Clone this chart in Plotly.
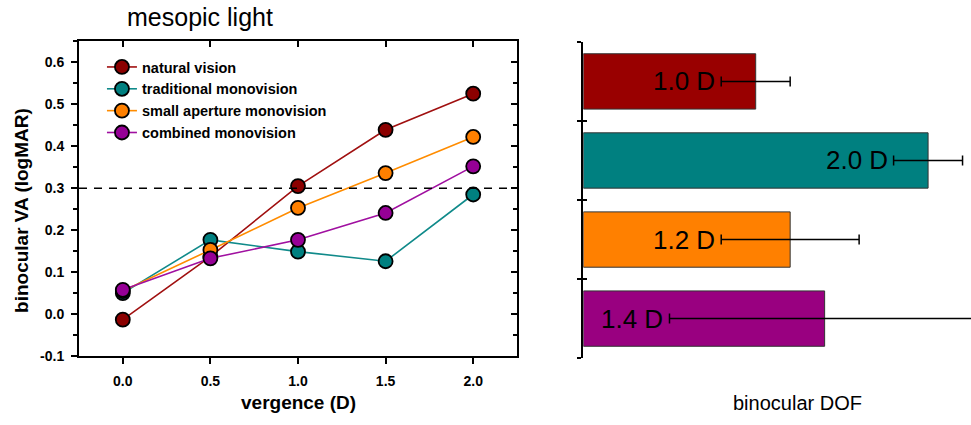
import plotly.graph_objects as go

vergence = [0.0, 0.5, 1.0, 1.5, 2.0]
series_names = ["natural vision", "traditional monovision", "small aperture monovision", "combined monovision"]
natural = [-0.013, 0.137, 0.305, 0.439, 0.525]
traditional = [0.050, 0.177, 0.149, 0.126, 0.285]
small_aperture = [0.055, 0.153, 0.253, 0.336, 0.422]
combined = [0.058, 0.133, 0.177, 0.241, 0.352]
threshold = 0.3

y_ticks = [-0.1, 0.0, 0.1, 0.2, 0.3, 0.4, 0.5, 0.6]
y_minor = [-0.05, 0.05, 0.15, 0.25, 0.35, 0.45, 0.55, 0.65]

dof_values = [1.0, 2.0, 1.2, 1.4]
dof_errors = [0.2, 0.2, 0.4, 0.9]
dof_labels = ["1.0 D", "2.0 D", "1.2 D", "1.4 D"]

line_colors = ["#A01010", "#108A8A", "#FF8C00", "#A010A0"]
marker_colors = ["#8B0000", "#008080", "#FF8000", "#960096"]
bar_colors = ["#990000", "#008080", "#FF8000", "#990080"]

FONT = "Liberation Sans, Arial, sans-serif"
W, H = 971, 425

def px(y):
    return 1 - y / H

fig = go.Figure()

for name, ys, lc, mc in zip(series_names, [natural, traditional, small_aperture, combined], line_colors, marker_colors):
    fig.add_trace(go.Scatter(
        x=vergence, y=ys, name=name, mode="lines+markers",
        line=dict(color=lc, width=1.6),
        marker=dict(size=14, color=mc, line=dict(color="black", width=1.8)),
        xaxis="x", yaxis="y", cliponaxis=False,
    ))

fig.add_trace(go.Scatter(
    x=[-0.25, 2.25], y=[threshold, threshold], mode="lines", showlegend=False,
    line=dict(color="black", width=1.5, dash="8px,7px"), xaxis="x", yaxis="y", hoverinfo="skip",
))

cat_pos = list(range(len(dof_values)))
fig.add_trace(go.Bar(
    x=dof_values, y=cat_pos, orientation="h", width=0.7,
    marker=dict(color=bar_colors, line=dict(color="#333333", width=1)),
    error_x=dict(type="data", array=dof_errors, visible=True, color="black", thickness=1.5, width=5),
    xaxis="x2", yaxis="y2", showlegend=False,
))

for v, e, lab, p in zip(dof_values, dof_errors, dof_labels, cat_pos):
    fig.add_annotation(x=v - e, y=p, xref="x2", yref="y2", text=lab, showarrow=False,
                       xanchor="right", yanchor="middle", xshift=-4,
                       font=dict(family=FONT, size=26, color="black"))

xdom = [79 / W, 517 / W]
ydom = [px(363), px(42)]
xr = [-0.25, 2.25]
yr = [-0.1, 0.65]
bdom = [px(365), px(42.7)]

fig.update_layout(
    width=W, height=H, autosize=False,
    margin=dict(l=0, r=0, t=0, b=0, pad=0),
    paper_bgcolor="white", plot_bgcolor="white",
    font=dict(family=FONT, color="black"),
    showlegend=True,
    legend=dict(x=0.105, y=px(52), xanchor="left", yanchor="top", bgcolor="rgba(0,0,0,0)",
                font=dict(family=FONT, size=14.5, color="black", weight="bold"),
                tracegroupgap=0, itemwidth=30),
    xaxis=dict(domain=xdom, range=xr, showline=True, linecolor="black", linewidth=2,
               ticks="outside", ticklen=6, tickwidth=1.5, tickcolor="black",
               tickvals=vergence, ticktext=[f"{v:.1f}" for v in vergence],
               tickfont=dict(size=14, weight="bold"), ticklabelstandoff=5,
               showgrid=False, zeroline=False, anchor="y"),
    yaxis=dict(domain=ydom, range=yr, showline=True, linecolor="black", linewidth=2,
               ticks="outside", ticklen=6, tickwidth=1.5, tickcolor="black",
               tickvals=y_ticks, ticktext=[f"{v:.1f}" for v in y_ticks],
               tickfont=dict(size=14, weight="bold"), ticklabelstandoff=4,
               minor=dict(tickvals=y_minor, ticks="outside",
                          ticklen=4, tickwidth=1.5, tickcolor="black"),
               showgrid=False, zeroline=False, anchor="x"),
    xaxis3=dict(domain=xdom, range=xr, overlaying="x", side="top", anchor="y",
                showline=True, linecolor="black", linewidth=2, ticks="inside", ticklen=6,
                tickwidth=1.5, tickcolor="black", tickvals=vergence, showticklabels=False,
                showgrid=False, zeroline=False),
    yaxis3=dict(domain=ydom, range=yr, overlaying="y", side="right", anchor="x",
                showline=True, linecolor="black", linewidth=2, ticks="inside", ticklen=6,
                tickwidth=1.5, tickcolor="black",
                tickvals=y_ticks, showticklabels=False,
                minor=dict(tickvals=y_minor, ticks="inside",
                           ticklen=4, tickwidth=1.5, tickcolor="black"),
                showgrid=False, zeroline=False),
    xaxis2=dict(domain=[583.3 / W, 1.0], range=[0, 2.249], visible=False, anchor="y2"),
    yaxis2=dict(domain=bdom, range=[3.5, -0.5], anchor="x2",
                showline=True, linecolor="black", linewidth=2, ticks="outside", ticklen=4,
                tickwidth=1.5, tickcolor="black", tickvals=[-0.5, 0.5, 1.5, 2.5, 3.5],
                showticklabels=False, showgrid=False, zeroline=False),
    yaxis4=dict(domain=bdom, range=[3.5, -0.5], anchor="x2",
                overlaying="y2", side="left",
                showline=False, ticks="inside", ticklen=4,
                tickwidth=1.5, tickcolor="black", tickvals=[-0.5, 0.5, 1.5, 2.5, 3.5],
                showticklabels=False, showgrid=False, zeroline=False),
)

fig.add_trace(go.Scatter(x=[None], y=[None], xaxis="x3", yaxis="y3", showlegend=False, hoverinfo="skip"))
fig.add_trace(go.Scatter(x=[None], y=[None], xaxis="x2", yaxis="y4", showlegend=False, hoverinfo="skip"))

fig.add_annotation(text="mesopic light", x=125 / W, y=px(17), xref="paper", yref="paper",
                   xanchor="left", yanchor="middle", showarrow=False,
                   font=dict(family=FONT, size=25, color="black"))
fig.add_annotation(text="binocular VA (logMAR)", x=22 / W, y=px(215), xref="paper", yref="paper",
                   xanchor="center", yanchor="middle", showarrow=False, textangle=-90,
                   font=dict(family=FONT, size=19, color="black", weight="bold"))
fig.add_annotation(text="vergence (D)", x=298 / W, y=px(410), xref="paper", yref="paper",
                   xanchor="center", yanchor="middle", showarrow=False,
                   font=dict(family=FONT, size=19, color="black", weight="bold"))
fig.add_annotation(text="binocular DOF", x=797 / W, y=px(411), xref="paper", yref="paper",
                   xanchor="center", yanchor="middle", showarrow=False,
                   font=dict(family=FONT, size=20, color="black"))

fig.write_html("out.html")
